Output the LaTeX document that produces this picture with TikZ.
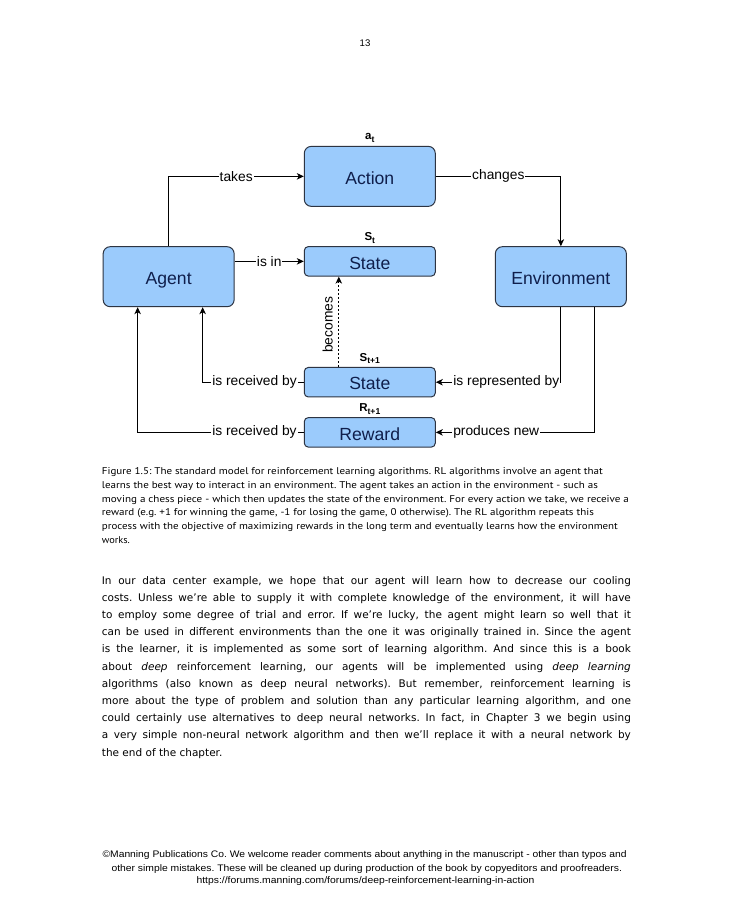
\documentclass[tikz,border=0pt]{standalone}
\usepackage{fontspec}
\usepackage{graphicx}
\usetikzlibrary{arrows.meta}
\usetikzlibrary{positioning}

\newfontfamily\diafont{Liberation Sans}
\newfontfamily\capfont{PT Sans}
\newfontfamily\bodyfont{DejaVu Sans}

\definecolor{boxfill}{RGB}{155,203,252}
\definecolor{boxline}{RGB}{45,52,66}
\definecolor{boxtext}{RGB}{15,30,75}

\newcommand{\sbs}[1]{\raisebox{-2.6pt}{\fontsize{8.6}{9}\selectfont #1}}
\newcommand{\bodyline}[3]{\node[bodytxt] (#1) at (101.7,#2) {\makebox[529pt][s]{#3}};}
\newcommand{\capline}[4]{\node[captxt] (#1) at (101.7,#2) {\resizebox{#3pt}{\height}{#4}};}
\newcommand{\footline}[5]{\node[foottxt] (#1) at (#2,#3) {\resizebox{#4pt}{\height}{#5}};}

\begin{document}
\begin{tikzpicture}[x=1pt, y=-1pt,
  box/.style={draw=boxline, fill=boxfill, line width=1pt, rounded corners=7pt,
    minimum width=131pt, minimum height=60pt, inner sep=0pt, text=boxtext,
    text height=15.3pt, text depth=0pt,
    font=\diafont\fontsize{17.6}{18}\selectfont},
  thin box/.style={box, rounded corners=4pt, minimum height=29.5pt},
  sub/.style={inner sep=0pt, font=\diafont\bfseries\fontsize{11.5}{12}\selectfont},
  rel/.style={fill=white, inner sep=1pt, font=\diafont\fontsize{13.8}{14}\selectfont},
  link/.style={line width=1pt, -{Stealth[length=7pt,width=6.5pt,inset=2pt]}},
  bodytxt/.style={anchor=base west, inner sep=0pt, yshift=-3.3pt,
    font=\bodyfont\fontsize{10.5}{12}\selectfont\frenchspacing},
  captxt/.style={anchor=base west, inner sep=0pt, yshift=-2.8pt,
    font=\capfont\fontsize{9.8}{11}\selectfont\frenchspacing},
  foottxt/.style={anchor=base, inner sep=0pt, yshift=-2.8pt,
    font=\diafont\fontsize{9.5}{11}\selectfont\frenchspacing}]
  \def\midx{369.8}
  \def\off{34pt}
  \path[use as bounding box, fill=white] (0,0) rectangle (731,916);

  \node[anchor=base, inner sep=0pt, font=\diafont\fontsize{9.6}{11}\selectfont] (page) at (365,46.5) {13};

  \node[box] (action) at (\midx,176.35) {Action};
  \node[thin box] (state) at (\midx,261.35) {State};
  \node[thin box] (nextstate) at (\midx,382.2) {State};
  \node[thin box] (reward) at (\midx,432.35) {Reward};
  \node[box] (agent) at (168.65,276.7) {Agent};
  \node[box] (env) at (560.85,276.7) {Environment};

  \node[sub, above=3.5pt of action] (at) {a\sbs{t}};
  \node[sub, above=2.5pt of state] (st) {S\sbs{t}};
  \node[sub, above=3pt of nextstate] (st1) {S\sbs{t+1}};
  \node[sub, above=2.5pt of reward] (rt1) {R\sbs{t+1}};

  \draw[link] (agent.north) |- (action.west) node[rel, pos=0.75] {takes};
  \draw[link] (action.east) -| (env.north) node[rel, pos=0.25] {changes};
  \draw[link] (agent.east |- state.west) -- (state.west) node[rel, midway] {is in};
  \draw[link, dash pattern=on 2pt off 2pt] ([xshift=-31pt]nextstate.north) -- ([xshift=-31pt]nextstate.north |- state.south)
    node[pos=0.466, rotate=90, anchor=south, inner sep=0pt, inner ysep=5.5pt, font=\diafont\fontsize{13.8}{14}\selectfont] {becomes};
  \draw[link] (nextstate.west) -| ([xshift=\off]agent.south) node[rel, pos=0.2435] {is received by};
  \draw[link] (reward.west) -| ([xshift=-31pt]agent.south) node[rel, pos=0.1485] {is received by};
  \draw[link] (env.south) |- (nextstate.east) node[rel, pos=0.718] {is represented by};
  \draw[link] ([xshift=\off]env.south) |- (reward.east) node[rel, pos=0.81] {produces new};

  \capline{c1}{471.7}{501}{Figure 1.5: The standard model for reinforcement learning algorithms. RL algorithms involve an agent that}
  \capline{c2}{485.5}{496}{learns the best way to interact in an environment. The agent takes an action in the environment - such as}
  \capline{c3}{499.3}{527}{moving a chess piece - which then updates the state of the environment. For every action we take, we receive a}
  \capline{c4}{513.1}{492}{reward (e.g. +1 for winning the game, -1 for losing the game, 0 otherwise). The RL algorithm repeats this}
  \capline{c5}{526.9}{516}{process with the objective of maximizing rewards in the long term and eventually learns how the environment}
  \capline{c6}{540.7}{28}{works.}

  \bodyline{b1}{580.7}{In our data center example, we hope that our agent will learn how to decrease our cooling}
  \bodyline{b2}{597.9}{costs. Unless we’re able to supply it with complete knowledge of the environment, it will have}
  \bodyline{b3}{615.1}{to employ some degree of trial and error. If we’re lucky, the agent might learn so well that it}
  \bodyline{b4}{632.3}{can be used in different environments than the one it was originally trained in. Since the agent}
  \bodyline{b5}{649.5}{is the learner, it is implemented as some sort of learning algorithm. And since this is a book}
  \bodyline{b6}{666.7}{about \textit{deep} reinforcement learning, our agents will be implemented using \textit{deep learning}}
  \bodyline{b7}{683.9}{algorithms (also known as deep neural networks). But remember, reinforcement learning is}
  \bodyline{b8}{701.1}{more about the type of problem and solution than any particular learning algorithm, and one}
  \bodyline{b9}{718.3}{could certainly use alternatives to deep neural networks. In fact, in Chapter 3 we begin using}
  \bodyline{b10}{735.5}{a very simple non-neural network algorithm and then we’ll replace it with a neural network by}
  \node[bodytxt] (b11) at (101.7,752.7) {the end of the chapter.};

  \footline{f1}{364.6}{855}{524}{©Manning Publications Co. We welcome reader comments about anything in the manuscript - other than typos and}
  \footline{f2}{366.8}{868.3}{510.5}{other simple mistakes. These will be cleaned up during production of the book by copyeditors and proofreaders.}
  \footline{f3}{365.5}{880.7}{337.8}{https://forums.manning.com/forums/deep-reinforcement-learning-in-action}
\end{tikzpicture}
\end{document}
